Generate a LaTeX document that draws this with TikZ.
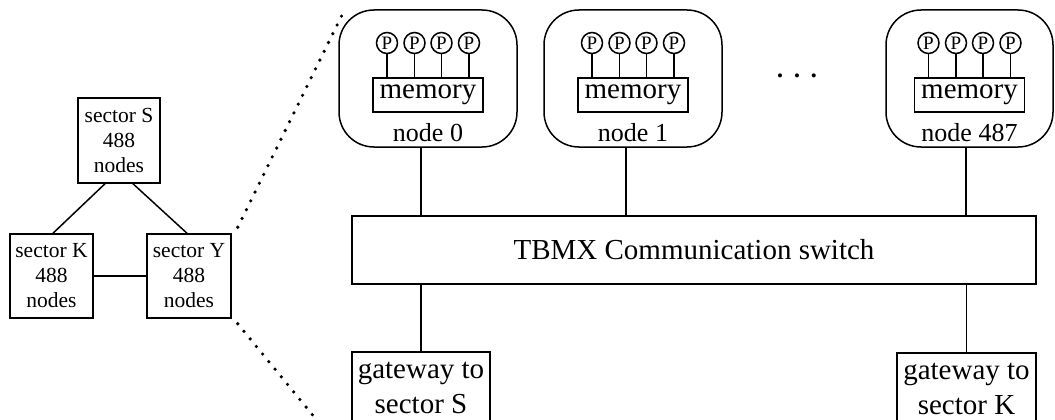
\documentclass[tikz,border=0pt]{standalone}
\usepackage{fontspec}
\setmainfont{Liberation Serif}
\begin{document}
\begin{tikzpicture}[x=1pt,y=-1pt,
  line width=1.5pt,
  sbox/.style={draw,rectangle,inner sep=0pt,align=center,
    font=\fontsize{21.5}{25}\selectfont},
  nodebox/.style={draw,rounded corners=35pt,minimum width=178pt,minimum height=137pt,inner sep=0pt},
  membox/.style={draw,rectangle,minimum width=110pt,minimum height=34pt,inner sep=0pt,
    font=\fontsize{29}{30}\selectfont},
  pcirc/.style={draw,circle,minimum size=21pt,inner sep=0pt,font=\fontsize{19}{19}\selectfont},
  nlabel/.style={inner sep=0pt,font=\fontsize{26}{28}\selectfont},
  gwbox/.style={draw,rectangle,minimum height=71pt,inner sep=0pt,align=center,
    font=\fontsize{29}{35}\selectfont},
  dotline/.style={line width=3.6pt,line cap=round,dash pattern=on 0pt off 9.8pt}
]
\useasboundingbox (0,0) rectangle (1055,420);

% left overview
\node[sbox,minimum width=82pt,minimum height=85pt] (S) at (119,140.5) {sector S\\488\\nodes};
\node[sbox,minimum width=83pt,minimum height=84pt] (K) at (51.5,276) {sector K\\488\\nodes};
\node[sbox,minimum width=84pt,minimum height=84pt] (Y) at (189,276) {sector Y\\488\\nodes};
\draw ([xshift=-14pt]S.south) -- ([xshift=1.5pt]K.north);
\draw ([xshift=14pt]S.south) -- ([xshift=-2pt]Y.north);
\draw (K.east) -- (Y.west);

% zoom lines
\coordinate (zt) at (342,15);
\coordinate (zb) at (320,424);
\draw[dotline] ([xshift=6pt,yshift=6pt]Y.north east) -- (zt);
\draw[dotline] ([xshift=6pt,yshift=-5pt]Y.south east) -- (zb);

% processing nodes
\node[nodebox] (n0) at (428,78.5) {};
\node[nodebox] (n1) at (633,78.5) {};
\node[nodebox,minimum width=167pt] (n487) at (969.5,78.5) {};

\foreach \nm/\cx/\lab in {n0/428/node 0,n1/633/node 1,n487/969.5/node 487}{
  \node[membox] (\nm m) at (\cx,95) {memory};
  \node[nlabel] (\nm l) at (\cx,133) {\lab};
  \foreach \i/\dx in {1/-41,2/-13.5,3/13.5,4/41}{
    \node[pcirc] (\nm p\i) at (\cx+\dx,43) {P};
    \draw (\nm p\i.south) -- (\nm p\i.south |- \nm m.north);
  }
}

\node[inner sep=0pt,font=\fontsize{17}{17}\selectfont] (dots) at (797,78)
  {\textbullet\hspace{11pt}\textbullet\hspace{11pt}\textbullet};

% switch
\node[draw,rectangle,minimum width=684pt,minimum height=68pt,inner sep=0pt,
  font=\fontsize{29}{30}\selectfont] (sw) at (694,250) {TBMX Communication switch};

\draw ([xshift=-7pt]n0.south) -- ([xshift=-7pt]n0.south |- sw.north);
\draw ([xshift=-7pt]n1.south) -- ([xshift=-7pt]n1.south |- sw.north);
\draw ([xshift=-3.5pt]n487.south) -- ([xshift=-3.5pt]n487.south |- sw.north);

% gateways
\node[gwbox,minimum width=138pt] (gS) at (421,387.5) {gateway to\\sector S};
\node[gwbox,minimum width=139pt] (gK) at (966.5,388.5) {gateway to\\sector K};
\draw (gS.north) -- (gS.north |- sw.south);
\draw (gK.north) -- (gK.north |- sw.south);
\end{tikzpicture}
\end{document}
